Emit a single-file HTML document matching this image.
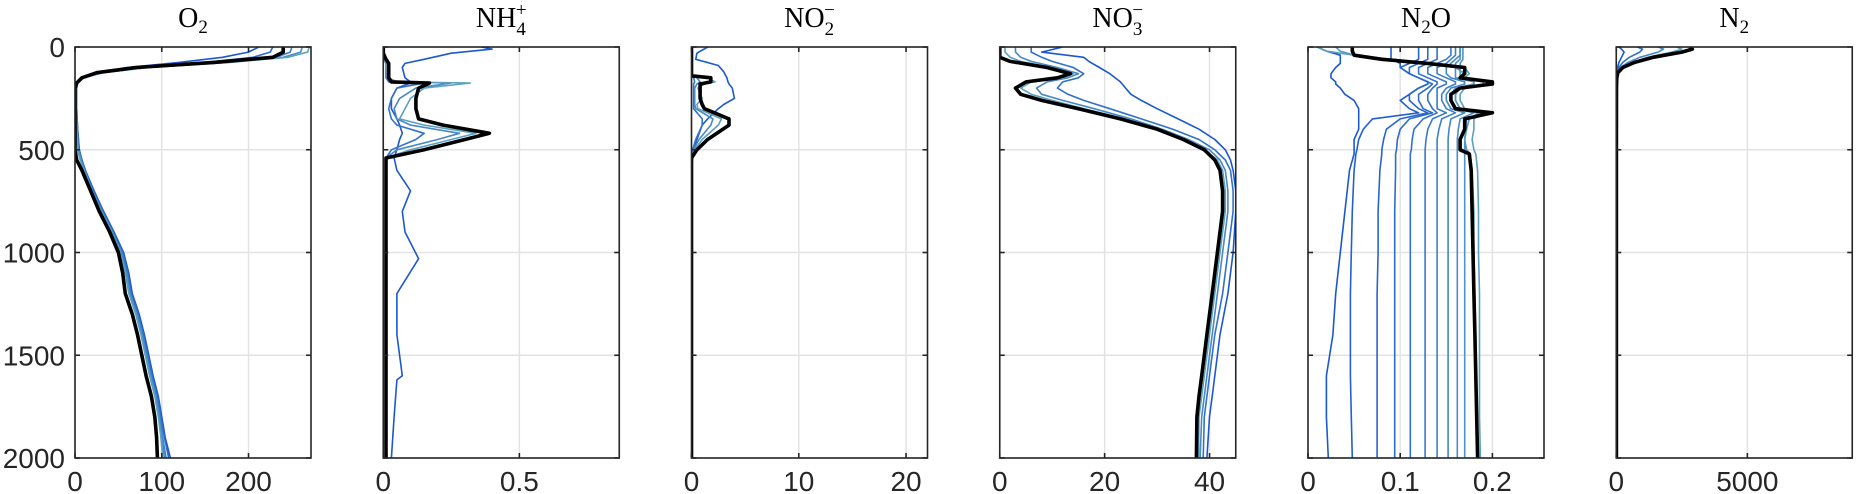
<!DOCTYPE html>
<html><head><meta charset="utf-8">
<style>
html,body{margin:0;padding:0;background:#fff;}
svg{display:block;}
.tick{font-family:"Liberation Sans",Arial,sans-serif;font-size:28px;fill:#262626;}
.ttl{font-family:"Liberation Serif","DejaVu Serif",serif;font-size:28px;fill:#000;}
</style></head>
<body>
<svg id="fig" width="1856" height="494" viewBox="0 0 1856 494" xmlns="http://www.w3.org/2000/svg"></svg>
<script>
// ---- shared y axis ----
const yTicks = [0,500,1000,1500,2000];
const yMax = 2000;

// ---- O2 ----
const o2Depth = [0,25,50,75,100,125,150,175,200,300,400,500,550,600,700,800,900,1000,1100,1200,1300,1400,1500,1600,1700,1800,1900,2000];
const o2Black = [240,240,228,160,70,25,8,2,0,0,0,0,2,8,18,28,40,50,55,58,66,72,77,82,88,92,94,95];
const o2Blue1 = [212,200,170,120,60,25,8,3,2,2,3,5,8,12,22,33,45,56,62,66,74,80,85,90,96,100,104,110];
const o2Blue2 = [228,225,205,150,80,30,10,3,2,2,3,5,8,12,21,32,44,55,61,65,73,79,84,89,95,99,103,108];
const o2Blue3 = [250,248,232,170,85,32,10,3,2,2,2,4,7,11,20,31,43,54,60,64,72,78,83,88,94,98,101,105];
const o2Blue4 = [262,260,240,175,85,30,9,3,1,1,2,4,7,11,20,31,43,53,59,63,71,77,82,87,93,97,100,103];
const o2Blue5 = [270,268,245,178,85,30,8,2,1,1,2,3,6,10,19,30,42,52,58,62,70,76,81,86,92,96,99,101];

// ---- NH4 ----
const nh4Depth = [0,10,30,60,80,100,150,170,175,200,250,300,350,380,420,450,500,540,600,700,800,900,1030,1200,1400,1600,1620,1800,2000];
const nh4Black = [0,0,0,0.01,0.02,0.02,0.02,0.03,0.17,0.13,0.12,0.12,0.13,0.22,0.39,0.3,0.15,0.01,0.01,0.01,0.01,0.01,0.01,0.01,0.01,0.01,0.01,0.01,0.01];
const nh4Blue1 = [0.36,0.4,0.25,0.15,0.08,0.07,0.08,0.1,0.1,0.05,0.03,0.03,0.05,0.06,0.07,0.06,0.05,0.04,0.05,0.1,0.07,0.08,0.13,0.05,0.05,0.07,0.05,0.04,0.03];
const nh4Blue2 = [0,0,0,0,0.01,0.01,0.01,0.02,0.15,0.05,0.03,0.02,0.03,0.05,0.15,0.12,0.03,0.01,0.01,0.01,0.01,0.01,0.01,0.01,0.01,0.01,0.01,0.01,0.01];
const nh4Blue3 = [0,0,0,0,0.01,0.01,0.01,0.03,0.25,0.12,0.06,0.04,0.05,0.1,0.28,0.2,0.05,0.01,0.01,0.01,0.01,0.01,0.01,0.01,0.01,0.01,0.01,0.01,0.01];
const nh4Blue4 = [0,0,0,0,0.01,0.01,0.02,0.05,0.32,0.15,0.1,0.08,0.06,0.15,0.34,0.25,0.1,0.01,0.01,0.01,0.01,0.01,0.01,0.01,0.01,0.01,0.01,0.01,0.01];

// ---- NO2 ----
const no2Depth = [0,30,60,90,120,140,150,170,180,200,250,280,300,350,380,450,500,540,600,2000];
const no2Black = [0,0,0,0,0,0,1.8,1.8,0.8,0.8,0.8,1.0,1.2,3.5,3.5,1.5,0.5,0,0,0];
const no2Blue1 = [1.5,0.5,0.4,2.5,3,3.2,3.3,3.4,3.5,3.8,4.0,3,2.5,1.5,1.0,0.5,0.2,0.1,0,0];
const no2Blue2 = [0,0,0,0,0,0,0.2,0.3,0.2,0.2,0.2,0.2,0.2,1.0,1.0,0.4,0.1,0,0,0];
const no2Blue3 = [0,0,0,0,0,0,0.5,0.8,0.5,0.3,0.3,0.3,0.4,2.0,1.8,0.7,0.2,0,0,0];
const no2Blue4 = [0,0,0,0,0,0,1.5,2.2,1.2,0.6,1.0,0.5,0.6,2.8,2.5,1.0,0.3,0,0,0];

// ---- NO3 ----
const no3Depth = [0,25,50,70,100,130,150,170,200,230,260,300,350,400,450,500,550,600,700,800,1000,1200,1400,1600,1700,1800,2000];
const no3Black = [0,0,0,2,9,13.5,11,5,3,4,8,15,23,30,35,39,41,42,42.5,42.5,41.5,40.5,39.5,38.5,38,37.6,37.5];
const no3Blue1 = [12,8,16,17,19,21,22,23,24,25,27,30,34,38,41,43,44,44.5,45,45,44.5,43.5,42,41,40.5,40,39.5];
const no3Blue2 = [6,6,8,10,14,16,15,12,11,13,16,21,27,33,38,41,43,44,44.5,44.5,43.5,42.5,41,40,39.5,39,38.8];
const no3Blue3 = [3,3,4,6,11,15,13,9,7,8,12,18,25,31,36,40,42,43,43.5,43.5,42.5,41.5,40.5,39.5,39,38.5,38.2];
const no3Blue4 = [1,1,2,4,10,14,12,6,4,6,10,16,24,30,35,39,41.5,42.5,43,43,42,41,40,39,38.5,38,37.9];

// ---- N2O ----
const n2oDepth = [0,20,40,60,80,100,130,150,170,180,200,230,260,300,320,350,400,450,500,520,600,800,1000,1200,1400,1600,1800,2000];
const n2oBlack = [0.048,0.048,0.05,0.08,0.13,0.17,0.17,0.165,0.2,0.2,0.165,0.155,0.155,0.16,0.2,0.17,0.17,0.165,0.165,0.175,0.177,0.178,0.179,0.18,0.181,0.182,0.183,0.184];
const n2oBlue1 = [0.01,0.02,0.035,0.035,0.035,0.03,0.025,0.025,0.03,0.03,0.035,0.04,0.05,0.055,0.055,0.055,0.055,0.05,0.05,0.05,0.045,0.04,0.035,0.03,0.027,0.02,0.02,0.022];
const n2oBlue2 = [0.09,0.09,0.09,0.09,0.1,0.1,0.11,0.12,0.13,0.13,0.12,0.11,0.1,0.11,0.12,0.07,0.06,0.055,0.053,0.052,0.05,0.048,0.047,0.046,0.046,0.046,0.047,0.048];
const n2oBlue3 = [0.12,0.12,0.12,0.12,0.11,0.1,0.11,0.12,0.13,0.13,0.12,0.11,0.11,0.12,0.13,0.1,0.085,0.082,0.08,0.08,0.078,0.076,0.076,0.075,0.075,0.075,0.075,0.075];
const n2oBlue4 = [0.13,0.13,0.13,0.13,0.12,0.11,0.11,0.12,0.13,0.135,0.13,0.12,0.12,0.125,0.135,0.11,0.1,0.097,0.096,0.095,0.095,0.094,0.094,0.094,0.094,0.094,0.094,0.094];
const n2oBlue5 = [0.14,0.14,0.14,0.14,0.13,0.12,0.12,0.13,0.14,0.14,0.135,0.13,0.13,0.135,0.14,0.125,0.115,0.113,0.112,0.111,0.111,0.111,0.111,0.111,0.111,0.111,0.111,0.111];
const n2oBlue6 = [0.155,0.155,0.155,0.15,0.14,0.13,0.13,0.14,0.15,0.15,0.14,0.14,0.14,0.14,0.15,0.135,0.13,0.128,0.127,0.127,0.127,0.127,0.127,0.127,0.127,0.127,0.127,0.127];
const n2oBlue7 = [0.16,0.16,0.16,0.155,0.15,0.14,0.14,0.15,0.16,0.16,0.15,0.145,0.145,0.15,0.16,0.145,0.142,0.14,0.14,0.14,0.14,0.14,0.14,0.14,0.14,0.14,0.14,0.14];
const n2oBlue8 = [0.165,0.165,0.165,0.16,0.155,0.15,0.15,0.155,0.17,0.17,0.155,0.15,0.15,0.155,0.17,0.155,0.153,0.152,0.152,0.152,0.152,0.152,0.152,0.152,0.152,0.152,0.152,0.152];
const n2oBlue9 = [0.165,0.165,0.165,0.165,0.16,0.16,0.16,0.16,0.18,0.18,0.16,0.155,0.155,0.16,0.18,0.165,0.163,0.162,0.162,0.162,0.162,0.162,0.162,0.162,0.162,0.162,0.162,0.162];
const n2oBlue10 = [0.168,0.168,0.168,0.168,0.165,0.165,0.165,0.165,0.19,0.19,0.165,0.16,0.16,0.165,0.19,0.172,0.171,0.17,0.17,0.17,0.17,0.17,0.17,0.17,0.17,0.17,0.17,0.17];
const n2oBlue11 = [0.03,0.035,0.05,0.08,0.12,0.16,0.17,0.165,0.18,0.18,0.165,0.16,0.16,0.165,0.185,0.175,0.172,0.17,0.172,0.176,0.178,0.18,0.18,0.181,0.182,0.182,0.183,0.184];
const n2oBlue12 = [0.01,0.02,0.05,0.09,0.14,0.17,0.175,0.17,0.19,0.19,0.17,0.165,0.165,0.17,0.19,0.18,0.18,0.178,0.18,0.182,0.184,0.185,0.185,0.186,0.186,0.186,0.186,0.187];

// ---- N2 ----
const n2Depth = [0,10,25,50,75,100,125,150,200,500,1000,2000];
const n2Black = [2800,2900,2500,1400,700,250,60,20,10,5,5,5];
const n2Blue1 = [100,200,300,200,100,50,20,10,5,3,3,3];
const n2Blue2 = [800,1000,900,500,250,100,30,10,5,3,3,3];
const n2Blue3 = [1600,1800,1600,900,450,150,40,15,8,4,4,4];
const n2Blue4 = [2300,2500,2100,1200,600,200,50,20,10,5,5,5];

const panels = [
  {name:'o2', xMax:272, ticks:[0,100,200], tickLbl:['0','100','200'], depth:o2Depth, blues:[o2Blue1,o2Blue2,o2Blue3,o2Blue4,o2Blue5], black:o2Black, title:'<tspan>O</tspan><tspan font-size="19" dy="6">2</tspan>'},
  {name:'nh4', xMax:0.867, ticks:[0,0.5], tickLbl:['0','0.5'], depth:nh4Depth, blues:[nh4Blue1,nh4Blue2,nh4Blue3,nh4Blue4], black:nh4Black, title:'<tspan>NH</tspan><tspan font-size="19" dy="8">4</tspan><tspan font-size="19" dx="-10" dy="-19">+</tspan>'},
  {name:'no2', xMax:22, ticks:[0,10,20], tickLbl:['0','10','20'], depth:no2Depth, blues:[no2Blue1,no2Blue2,no2Blue3,no2Blue4], black:no2Black, title:'<tspan>NO</tspan><tspan font-size="19" dy="8">2</tspan><tspan font-size="19" dx="-10" dy="-19">−</tspan>'},
  {name:'no3', xMax:45, ticks:[0,20,40], tickLbl:['0','20','40'], depth:no3Depth, blues:[no3Blue1,no3Blue2,no3Blue3,no3Blue4], black:no3Black, title:'<tspan>NO</tspan><tspan font-size="19" dy="8">3</tspan><tspan font-size="19" dx="-10" dy="-19">−</tspan>'},
  {name:'n2o', xMax:0.256, ticks:[0,0.1,0.2], tickLbl:['0','0.1','0.2'], depth:n2oDepth, blues:[n2oBlue1,n2oBlue2,n2oBlue3,n2oBlue4,n2oBlue5,n2oBlue6,n2oBlue7,n2oBlue8,n2oBlue9,n2oBlue10,n2oBlue11,n2oBlue12], black:n2oBlack, title:'<tspan>N</tspan><tspan font-size="19" dy="6">2</tspan><tspan dy="-6">O</tspan>'},
  {name:'n2', xMax:9000, ticks:[0,5000], tickLbl:['0','5000'], depth:n2Depth, blues:[n2Blue1,n2Blue2,n2Blue3,n2Blue4], black:n2Black, title:'<tspan>N</tspan><tspan font-size="19" dy="6">2</tspan>'}
];

const NS='http://www.w3.org/2000/svg';
const svg=document.getElementById('fig');
const L0=75, STEP=308.25, W=236, TOP=47, BOT=458;
function yScale(d){return TOP+d/yMax*(BOT-TOP);}
function xScale(p,v){return L0+p*STEP+v/panels[p].xMax*W;}
function mk(tag,attrs,parent){const e=document.createElementNS(NS,tag);for(const k in attrs)e.setAttribute(k,attrs[k]);(parent||svg).appendChild(e);return e;}
function mix(a,b,t){return Math.round(a+(b-a)*t);}
function blueColor(i,n){const t=n>1?i/(n-1):0;return 'rgb('+mix(28,92,t)+','+mix(88,160,t)+','+mix(208,192,t)+')';}

panels.forEach((P,p)=>{
  const g=mk('g',{});
  
  
  const left=L0+p*STEP, right=left+W;
  const clipId='clip'+p;
  const cp=mk('clipPath',{id:clipId},g);
  mk('rect',{x:left,y:TOP,width:W,height:BOT-TOP},cp);
  // grid
  yTicks.forEach(t=>{
    const l=mk('line',{x1:left,x2:right,y1:yScale(t),y2:yScale(t),stroke:'#e3e3e3','stroke-width':1.5},g);
    
    
  });
  P.ticks.forEach(t=>{
    const x=xScale(p,t);
    const l=mk('line',{x1:x,x2:x,y1:TOP,y2:BOT,stroke:'#e3e3e3','stroke-width':1.5},g);
    
    
  });
  // series
  const lg=mk('g',{'clip-path':'url(#'+clipId+')'},g);
  P.blues.forEach((s,i)=>{
    const pts=s.map((v,k)=>xScale(p,v).toFixed(1)+','+yScale(P.depth[k]).toFixed(1)).join(' ');
    const pl=mk('polyline',{points:pts,fill:'none',stroke:blueColor(i,P.blues.length),'stroke-width':1.6,'stroke-linejoin':'round'},lg);
    
    
  });
  const bpts=P.black.map((v,k)=>xScale(p,v).toFixed(1)+','+yScale(P.depth[k]).toFixed(1)).join(' ');
  const bl=mk('polyline',{points:bpts,fill:'none',stroke:'#000','stroke-width':3.6,'stroke-linejoin':'round'},lg);
  
  
  // box
  const box=mk('rect',{x:left,y:TOP,width:W,height:BOT-TOP,fill:'none',stroke:'#262626','stroke-width':1.6},g);
  
  
  // ticks
  yTicks.forEach(t=>{
    const y=yScale(t);
    mk('line',{x1:left,x2:left+5,y1:y,y2:y,stroke:'#262626','stroke-width':1.6},g);
    mk('line',{x1:right,x2:right-5,y1:y,y2:y,stroke:'#262626','stroke-width':1.6},g);
  });
  P.ticks.forEach((t,i)=>{
    const x=xScale(p,t);
    mk('line',{x1:x,x2:x,y1:BOT,y2:BOT-5,stroke:'#262626','stroke-width':1.6},g);
    mk('line',{x1:x,x2:x,y1:TOP,y2:TOP+5,stroke:'#262626','stroke-width':1.6},g);
    const tx=mk('text',{x:x,y:491,'text-anchor':'middle',class:'tick'},g);
    tx.textContent=P.tickLbl[i];
    
    
  });
  if(p===0){
    yTicks.forEach(t=>{
      const tx=mk('text',{x:65,y:yScale(t)+10,'text-anchor':'end',class:'tick'},g);
      tx.textContent=String(t);
      
      
    });
  }
  const tt=mk('text',{x:left+W/2,y:27,'text-anchor':'middle',class:'ttl'},g);
  tt.innerHTML=P.title;
  
  
});
</script>
</body></html>
